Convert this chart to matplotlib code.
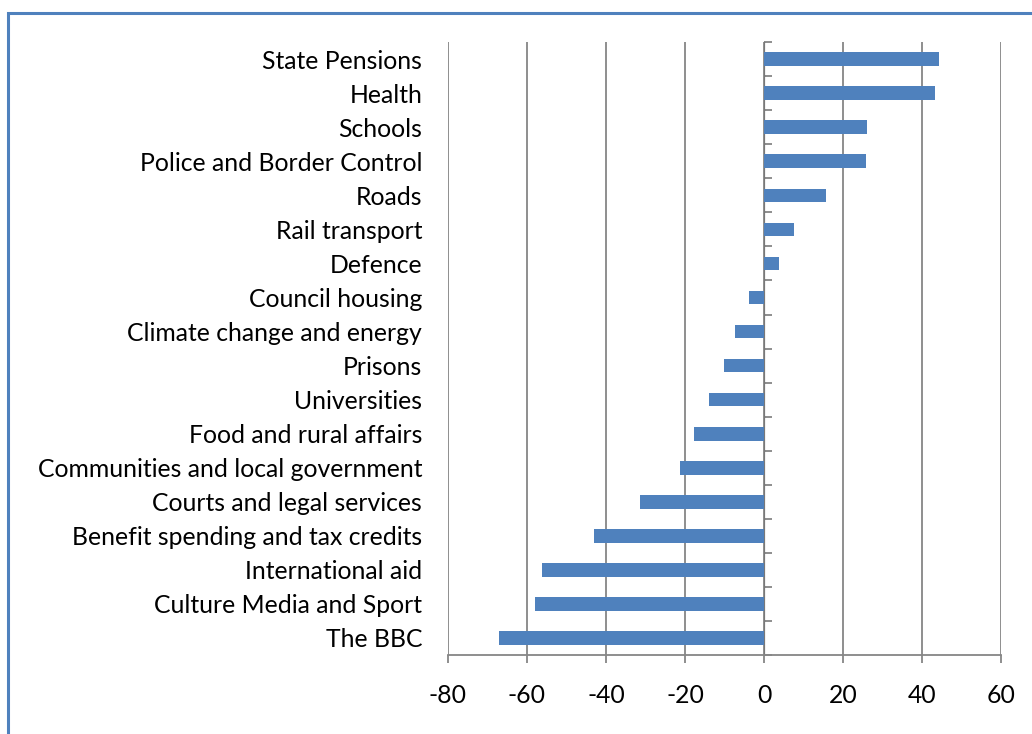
import matplotlib.pyplot as plt
from matplotlib.patches import Rectangle

# Categories listed top to bottom, as in the chart
categories = ['State Pensions', 'Health', 'Schools', 'Police and Border Control',
              'Roads', 'Rail transport', 'Defence', 'Council housing',
              'Climate change and energy', 'Prisons', 'Universities',
              'Food and rural affairs', 'Communities and local government',
              'Courts and legal services', 'Benefit spending and tax credits',
              'International aid', 'Culture Media and Sport', 'The BBC']
values = [44.3, 43.3, 26.1, 25.8, 15.6, 7.5, 3.9, -3.9, -7.4, -10.2, -14.0,
          -17.8, -21.3, -31.4, -43.1, -56.1, -57.9, -67.1]
x_ticks = [-80, -60, -40, -20, 0, 20, 40, 60]

plt.rcParams['font.family'] = ['Lato', 'DejaVu Sans']
grey = '#868686'

fig = plt.figure(figsize=(10.32, 7.34), dpi=100)
ax = fig.add_axes([0.434, 0.1076, 0.536, 0.835])

y = list(range(len(categories)))[::-1]
ax.barh(y, values, height=0.4, color='#4F81BD', zorder=3)

ax.set_xlim(x_ticks[0], x_ticks[-1])
ax.set_ylim(-0.5, len(categories) - 0.5)
ax.set_xticks(x_ticks)
ax.set_xticklabels([str(t) for t in x_ticks])
ax.xaxis.grid(True, color=grey, linewidth=1.3, zorder=0)

ax.set_yticks(y)
ax.set_yticklabels(categories)
ax.tick_params(axis='y', length=0, pad=18.5, labelsize=17.8)
ax.tick_params(axis='x', length=6, width=1.3, color=grey, pad=15, labelsize=17.8)

for side in ['top', 'right', 'left']:
    ax.spines[side].set_visible(False)
ax.spines['bottom'].set_color(grey)
ax.spines['bottom'].set_linewidth(1.3)

# vertical axis line at zero with tick marks between categories
zero_pos = (0 - x_ticks[0]) / (x_ticks[-1] - x_ticks[0])
sec = ax.secondary_yaxis(zero_pos)
sec.set_yticks([v - 0.5 for v in range(len(categories) + 1)])
sec.set_yticklabels([])
sec.tick_params(length=6, width=1.3, color=grey)
sec.spines['left'].set_color(grey)
sec.spines['left'].set_linewidth(1.3)

# chart border
fig.add_artist(Rectangle((0.0075, -0.1), 1.1, 1.082, transform=fig.transFigure,
                         fill=False, edgecolor='#4F81BD', linewidth=2.2))

fig.savefig('out.png', dpi=100, facecolor='white')
